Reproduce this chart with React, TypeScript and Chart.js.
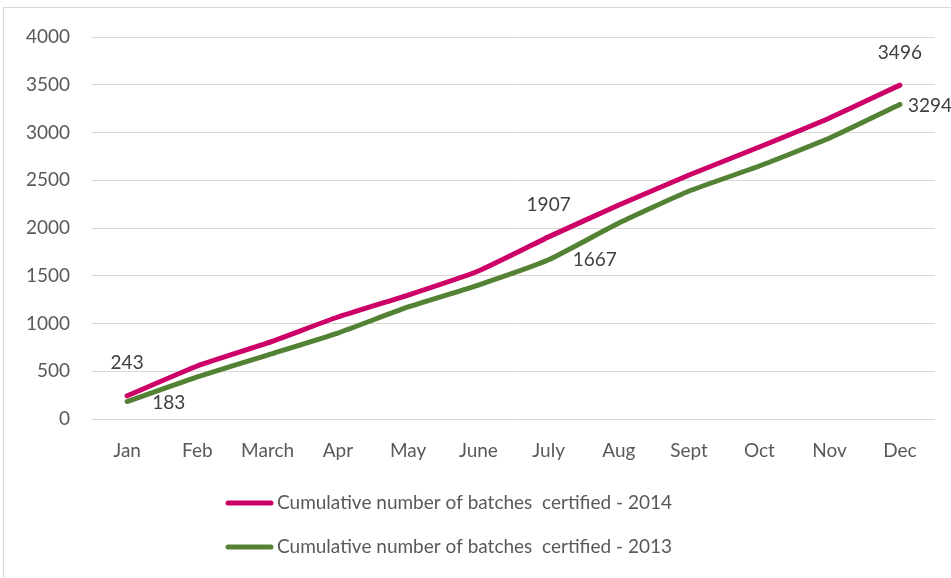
import React, { useEffect, useRef } from "react";
import { Chart, registerables } from "chart.js";

Chart.register(...registerables);

const months = ["Jan", "Feb", "March", "Apr", "May", "June", "July", "Aug", "Sept", "Oct", "Nov", "Dec"];
const series2014 = [243, 555, 796, 1068, 1298, 1550, 1907, 2240, 2555, 2848, 3152, 3496];
const series2013 = [183, 440, 670, 900, 1173, 1403, 1667, 2052, 2387, 2649, 2942, 3294];
const yTicks = [0, 500, 1000, 1500, 2000, 2500, 3000, 3500, 4000];
const labelName2014 = "Cumulative number of batches  certified - 2014";
const labelName2013 = "Cumulative number of batches  certified - 2013";
const labeledIndices = [0, 6, 11];

const PINK = "#cc0066";
const GREEN = "#548235";
const FONT = "Lato, 'Open Sans', sans-serif";
const FS = 19;

// label placement per dataset: above (centered) or right (left-aligned)
const labelPlacement = [
  { mode: "above", offsets: { 0: [0, -33], 6: [0, -32], 11: [0, -32] } },
  { mode: "right", offsets: { 0: [25, 1], 6: [24, 0], 11: [8, 1] } },
];

const borderPlugin = {
  id: "outerBorder",
  beforeDraw(chart: any) {
    const ctx = chart.ctx;
    ctx.save();
    ctx.fillStyle = "#ffffff";
    ctx.fillRect(0, 0, chart.width, chart.height);
    ctx.strokeStyle = "#d9d9d9";
    ctx.lineWidth = 1;
    ctx.strokeRect(3.5, 7.5, chart.width + 20, chart.height + 20);
    ctx.restore();
  },
};

const dataLabelPlugin = {
  id: "dataLabels",
  afterDatasetsDraw(chart: any) {
    const ctx = chart.ctx;
    ctx.save();
    ctx.font = `${FS}px ${FONT}`;
    ctx.fillStyle = "#404040";
    ctx.textBaseline = "middle";
    chart.data.datasets.forEach((ds: any, di: number) => {
      const meta = chart.getDatasetMeta(di);
      const place = labelPlacement[di];
      labeledIndices.forEach((i) => {
        const pt = meta.data[i];
        if (!pt) return;
        const off = (place.offsets as any)[i] || [0, 0];
        ctx.textAlign = place.mode === "above" ? "center" : "left";
        ctx.fillText(String(ds.data[i]), pt.x + off[0], pt.y + off[1]);
      });
    });
    ctx.restore();
  },
};

const legendPlugin = {
  id: "customLegend",
  afterDraw(chart: any) {
    const ctx = chart.ctx;
    const items = [
      { text: labelName2014, color: PINK, y: 503 },
      { text: labelName2013, color: GREEN, y: 547 },
    ];
    ctx.save();
    ctx.font = `${FS}px ${FONT}`;
    ctx.textBaseline = "middle";
    ctx.textAlign = "left";
    items.forEach((it) => {
      ctx.strokeStyle = it.color;
      ctx.lineWidth = 5;
      ctx.lineCap = "round";
      ctx.beginPath();
      ctx.moveTo(228, it.y);
      ctx.lineTo(271, it.y);
      ctx.stroke();
      ctx.fillStyle = "#595959";
      ctx.fillText(it.text, 277, it.y);
    });
    ctx.restore();
  },
};

export default function App() {
  const ref = useRef<HTMLCanvasElement | null>(null);
  useEffect(() => {
    if (!ref.current) return;
    const chart = new Chart(ref.current, {
      type: "line",
      data: {
        labels: months,
        datasets: [
          {
            label: labelName2014,
            data: series2014,
            borderColor: PINK,
            backgroundColor: PINK,
            borderWidth: 5,
            pointRadius: 0,
            tension: 0.15,
            borderCapStyle: "round",
            borderJoinStyle: "round",
          },
          {
            label: labelName2013,
            data: series2013,
            borderColor: GREEN,
            backgroundColor: GREEN,
            borderWidth: 5,
            pointRadius: 0,
            tension: 0.15,
            borderCapStyle: "round",
            borderJoinStyle: "round",
          },
        ],
      },
      options: {
        responsive: false,
        animation: false,
        layout: { padding: { left: 0, top: 37, right: 16, bottom: 0 } },
        plugins: {
          legend: { display: false },
          tooltip: { enabled: false },
        },
        scales: {
          x: {
            offset: true,
            grid: { display: false },
            border: { display: false },
            ticks: {
              font: { size: FS, family: FONT },
              color: "#595959",
              padding: 12,
              maxRotation: 0,
              autoSkip: false,
            },
            afterFit(scale: any) {
              scale.height = 159;
            },
          },
          y: {
            min: 0,
            max: 4000,
            afterBuildTicks(scale: any) {
              scale.ticks = yTicks.map((v) => ({ value: v }));
            },
            grid: { color: "#d9d9d9", lineWidth: 1, drawTicks: false },
            border: { display: false },
            ticks: {
              font: { size: FS, family: FONT },
              color: "#595959",
              padding: 22,
              callback: (v: any) => String(v),
            },
            afterFit(scale: any) {
              scale.width = 92;
            },
          },
        },
      },
      plugins: [borderPlugin, dataLabelPlugin, legendPlugin],
    });
    return () => chart.destroy();
  }, []);
  return (
    <canvas
      ref={ref}
      width={951}
      height={578}
      style={{ position: "fixed", left: 0, top: 0, width: 951, height: 578 }}
    />
  );
}
